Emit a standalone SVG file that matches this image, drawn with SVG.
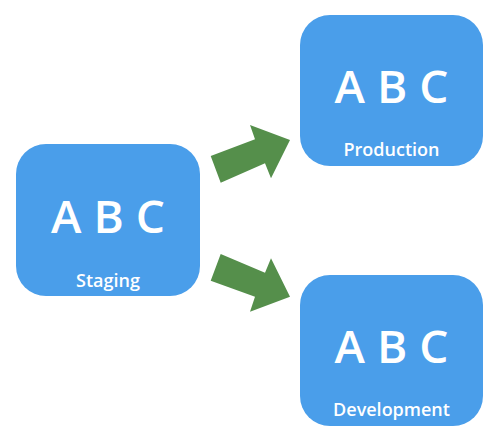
<svg xmlns="http://www.w3.org/2000/svg" width="500" height="441" viewBox="0 0 500 441">
<style>
.box{fill:#4A9EEA;}
.big{font-family:"Open Sans","Noto Sans",sans-serif;font-size:46px;font-weight:600;fill:#fff;text-anchor:middle;}
.lbl{font-family:"Open Sans","Noto Sans",sans-serif;font-size:18px;font-weight:600;fill:#fff;text-anchor:middle;}
.arrow{fill:#558F4B;}
</style>
<rect width="500" height="441" fill="#fff"/>
<g id="staging">
<rect class="box" x="16" y="144" width="184" height="152" rx="30"/>
<text class="big" x="108" y="233">A B C</text>
<text class="lbl" x="108" y="287">Staging</text>
</g>
<g id="production">
<rect class="box" x="300" y="15" width="183" height="151" rx="30"/>
<text class="big" x="391.5" y="103">A B C</text>
<text class="lbl" x="391.5" y="156">Production</text>
</g>
<g id="development">
<rect class="box" x="300" y="275" width="183" height="151" rx="30"/>
<text class="big" x="391.5" y="363">A B C</text>
<text class="lbl" x="391.5" y="416">Development</text>
</g>
<g id="connectors">
<polygon class="arrow" points="220.7,182.7 210.7,156 255,139.3 250,125 290,140 271,178.3 265,163.3"/>
<polygon class="arrow" points="220.7,254 210.7,280.7 255,296.7 250,311.7 290,296.7 271,258.3 265,272.7"/>
</g>
</svg>
